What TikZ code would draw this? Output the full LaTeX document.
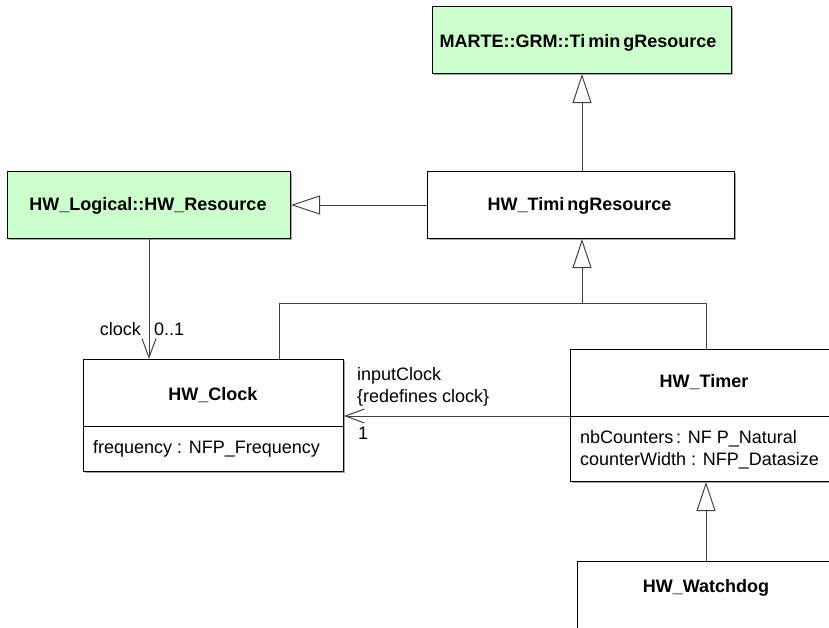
\documentclass[tikz,border=0pt]{standalone}
\usepackage{fontspec}
\setmainfont{Liberation Sans}
\usetikzlibrary{arrows.meta,shadows}
\definecolor{umlgreen}{HTML}{CCFFCC}
\definecolor{linegray}{HTML}{404040}
\begin{document}
\begin{tikzpicture}[x=1pt,y=-1pt,
  cls/.style={draw=black, line width=1pt, inner sep=0pt, anchor=north west, fill=white,
    drop shadow={shadow xshift=1pt, shadow yshift=-1pt, fill=gray!70, opacity=1}},
  grn/.style={cls, fill=umlgreen},
  ttl/.style={font=\fontsize{18}{21}\selectfont\bfseries, inner sep=0pt, anchor=base},
  attr/.style={font=\fontsize{18}{22}\selectfont, inner sep=0pt, anchor=base west},
  lbl/.style={font=\fontsize{18}{22}\selectfont, inner sep=0pt},
  gen/.style={draw=linegray, line width=1pt, -{Triangle[length=29pt, width=19pt, fill=white]}},
  assoc/.style={draw=linegray, line width=1pt, -{Straight Barb[length=19pt, width=14pt]}},
  plain/.style={draw=linegray, line width=1pt}]
\path[use as bounding box, clip] (0,0) rectangle (829,627);

% classes
\node[grn, minimum width=299pt, minimum height=67pt] (marte) at (432,6) {};
\node[grn, minimum width=283pt, minimum height=67pt] (hwres) at (7,171) {};
\node[cls, minimum width=307pt, minimum height=67pt] (tres) at (427,171) {};
\node[cls, minimum width=260pt, minimum height=112pt] (clk) at (83,359) {};
\node[cls, minimum width=268pt, minimum height=132pt] (tmr) at (570,349) {};
\node[cls, minimum width=258pt, minimum height=100pt] (wd) at (577,561) {};

% compartment dividers
\draw[line width=1pt] (clk.west |- 0,426) coordinate (clkdl) -- (clk.east |- 0,426) coordinate (clkdr);
\draw[line width=1pt] (tmr.west |- 0,416) coordinate (tmrdl) -- (tmr.east |- 0,416) coordinate (tmrdr);

% titles
\node[ttl] (marteT) at (578,47) {MARTE::GRM::Ti\,min\,gResource};
\node[ttl] (hwresT) at (148,210) {HW\_Logical::HW\_Resource};
\node[ttl] (tresT) at (579.5,210) {HW\_Timi\,ngResource};
\node[ttl] (clkT) at (213,400) {HW\_Clock};
\node[ttl] (tmrT) at (704,387) {HW\_Timer};
\node[ttl] (wdT) at (706,592) {HW\_Watchdog};

% attributes
\node[attr] (clkA) at (93,453) {frequency : NFP\_Frequency};
\node[attr] (tmrA1) at (580,443) {nbCounters\,: NF P\_Natural};
\node[attr] (tmrA2) at (580,465) {counterWidth : NFP\_Datasize};

% generalizations
\draw[gen] (tres.north -| 582,0) -- (marte.south -| 582,0);
\draw[gen] (tres.west |- 0,205) -- (hwres.east |- 0,205);
\coordinate (gl) at (279,303);
\coordinate (gm) at (582,303);
\coordinate (gr) at (706,303);
\draw[plain] (gl |- clk.north) -- (gl) -- (gr) -- (gr |- tmr.north);
\draw[gen] (gm) -- (gm |- tres.south);
\draw[gen] (wd.north -| 706,0) -- (tmr.south -| 706,0);

% associations
\draw[assoc] (hwres.south -| 149,0) -- (clk.north -| 149,0);
\draw[assoc] (tmrdl) -- (clk.east |- tmrdl);

% association labels
\node[lbl, anchor=base east] (lclock) at (141,335) {clock};
\node[lbl, anchor=base west] (lmult) at (154,335) {0..1};
\node[lbl, anchor=base west] (lin) at (357,380) {inputClock};
\node[lbl, anchor=base west] (lred) at (357,402) {\{redefines clock\}};
\node[lbl, anchor=base west] (lone) at (358,439) {1};
\end{tikzpicture}
\end{document}
